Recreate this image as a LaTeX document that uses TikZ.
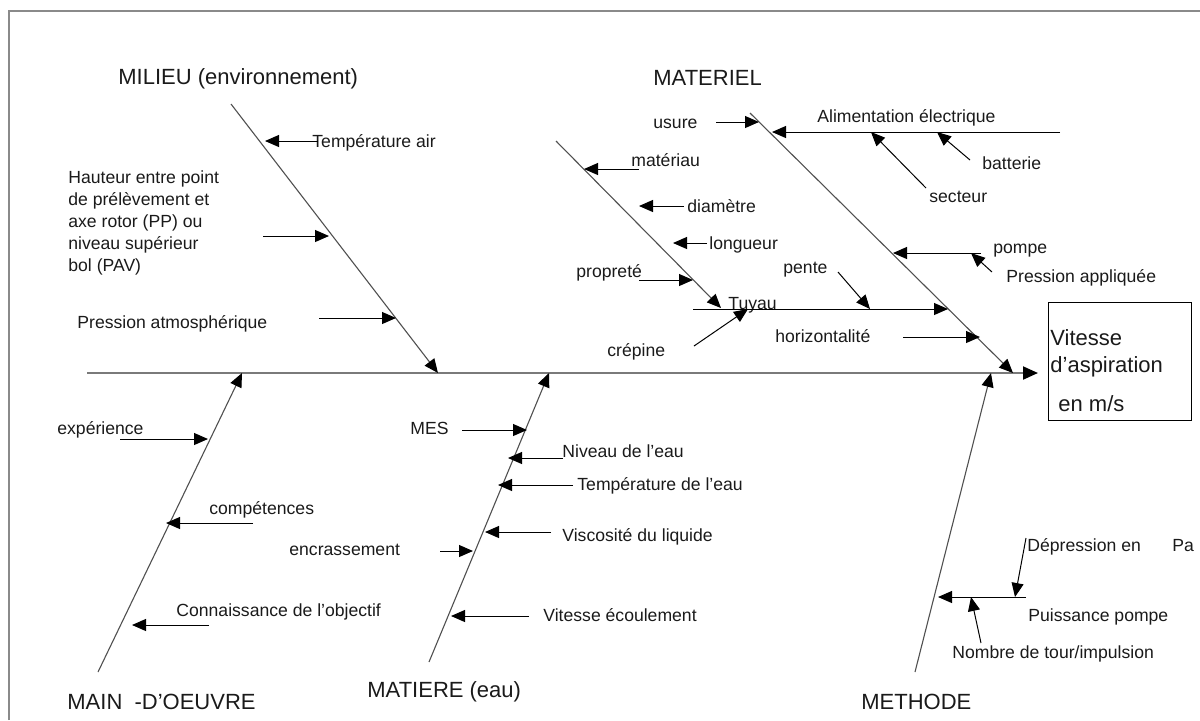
\documentclass[tikz,border=0pt]{standalone}
\usepackage{fontspec}
\setmainfont{Liberation Sans}
\usetikzlibrary{arrows.meta}
\definecolor{txt}{HTML}{1A1A1A}
\definecolor{bonegray}{HTML}{505050}
\definecolor{spinegray}{HTML}{7A7A7A}
\definecolor{framegray}{HTML}{8A8A8A}
\begin{document}
\begin{tikzpicture}[x=0.5pt,y=-0.5pt,
  lbl/.style={anchor=west, inner sep=0pt, font=\fontsize{8.8}{10.5}\selectfont, text height=6.2pt, text depth=0pt, text=txt},
  big/.style={anchor=west, inner sep=0pt, font=\fontsize{11}{13}\selectfont, text height=7.8pt, text depth=0pt, text=txt},
  bone/.style={draw=bonegray, line width=0.55pt, -{Triangle[length=7pt,width=6pt,color=black]}},
  spine/.style={draw=spinegray, line width=1pt, -{Triangle[length=7.5pt,width=6.5pt,color=black]}},
  sub/.style={draw=black, line width=0.5pt, -{Triangle[length=7pt,width=6pt]}},
  plain/.style={draw=black, line width=0.5pt}]
\useasboundingbox (0,0) rectangle (1200,720);
% frame
\draw[framegray, line width=1pt] (9,720) -- (9,11) -- (1200,11);

% ---- coordinates: bones
\coordinate (sp0) at (87,373);   \coordinate (sp1) at (1038,373);
\coordinate (mi0) at (231,104);  \coordinate (mi1) at (438,373);
\coordinate (ma0) at (750,113);  \coordinate (ma1) at (1013,373);
\coordinate (mo0) at (98,672);   \coordinate (mo1) at (242,373);
\coordinate (mt0) at (429,662);  \coordinate (mt1) at (549,373);
\coordinate (me0) at (915,672);  \coordinate (me1) at (991,373);
\coordinate (tu0) at (556,141);  \coordinate (tu1) at (721,308);

\draw[spine] (sp0) -- (sp1);
\draw[bone] (mi0) -- (mi1);
\draw[bone] (ma0) -- (ma1);
\draw[bone] (mo0) -- (mo1);
\draw[bone] (mt0) -- (mt1);
\draw[bone] (me0) -- (me1);
\draw[bone] (tu0) -- (tu1);

% ---- main labels
\node[big] (lmilieu) at (118,77) {MILIEU (environnement)};
\node[big] (lmateriel) at (653,78) {MATERIEL};
\node[big] (lmain) at (67,702) {MAIN\ \ -D’OEUVRE};
\node[big] (lmatiere) at (367,690) {MATIERE (eau)};
\node[big] (lmethode) at (861,702) {METHODE};

% ---- effect box
\node[draw=black, line width=0.6pt, inner sep=0pt, minimum width=71.5pt, minimum height=59pt, anchor=north west] (box) at (1048,302) {};
\node[big] (v1) at (1050,338) {Vitesse};
\node[big] (v2) at (1050,365) {d’aspiration};
\node[big] (v3) at (1058,404) {en m/s};

% ---- MILIEU causes
\node[lbl] (ltair) at (312,141) {Température air};
\node[anchor=north west, inner sep=0pt, align=left, font=\fontsize{8.8}{11}\selectfont, text=txt] (lhaut) at (68,170)
  {Hauteur entre point\\de prélèvement et\\axe rotor (PP) ou\\niveau supérieur\\bol (PAV)};
\node[lbl] (lpatm) at (77,322) {Pression atmosphérique};
\coordinate (a1) at (318,141); \coordinate (b1) at (265,141);
\coordinate (a2) at (263,236); \coordinate (b2) at (329,236);
\coordinate (a3) at (319,318); \coordinate (b3) at (396,318);
\draw[sub] (a1) -- (b1);
\draw[sub] (a2) -- (b2);
\draw[sub] (a3) -- (b3);

% ---- MATERIEL causes
\node[lbl] (lusure) at (653,122) {usure};
\node[lbl] (lalim) at (817,116) {Alimentation électrique};
\node[lbl] (lbatt) at (982,163) {batterie};
\node[lbl] (lsect) at (929,196) {secteur};
\node[lbl] (lpompe) at (993,247) {pompe};
\node[lbl] (lpapp) at (1006,276) {Pression appliquée};
\coordinate (c1) at (716,122);  \coordinate (d1) at (759,122);
\coordinate (c2) at (1060,132); \coordinate (d2) at (772,132);
\coordinate (c3) at (926,188);  \coordinate (d3) at (871,132);
\coordinate (c4) at (970,160);  \coordinate (d4) at (937,132);
\coordinate (c5) at (981,253);  \coordinate (d5) at (893,253);
\coordinate (c6) at (992,272);  \coordinate (d6) at (971,253);
\draw[sub] (c1) -- (d1);
\draw[sub] (c2) -- (d2);
\draw[sub] (c3) -- (d3);
\draw[sub] (c4) -- (d4);
\draw[sub] (c5) -- (d5);
\draw[sub] (c6) -- (d6);

% ---- Tuyau sub-branch
\node[lbl] (lmatx) at (631,160) {matériau};
\node[lbl] (ldiam) at (687,206) {diamètre};
\node[lbl] (llong) at (709,243) {longueur};
\node[lbl] (lprop) at (576,271) {propreté};
\node[lbl] (ltuy) at (728,303) {Tuyau};
\node[lbl] (lcrep) at (607,350) {crépine};
\node[lbl] (lpente) at (783,267) {pente};
\node[lbl] (lhoriz) at (775,336) {horizontalité};
\coordinate (e1) at (639,169); \coordinate (f1) at (584,169);
\coordinate (e2) at (684,206); \coordinate (f2) at (639,206);
\coordinate (e3) at (707,243); \coordinate (f3) at (673,243);
\coordinate (e4) at (639,280); \coordinate (f4) at (693,280);
\coordinate (e5) at (693,309); \coordinate (f5) at (948,309);
\coordinate (e6) at (694,346); \coordinate (f6) at (748,309);
\coordinate (e7) at (838,272); \coordinate (f7) at (870,309);
\coordinate (e8) at (903,337); \coordinate (f8) at (980,337);
\draw[sub] (e1) -- (f1);
\draw[sub] (e2) -- (f2);
\draw[sub] (e3) -- (f3);
\draw[sub] (e4) -- (f4);
\draw[sub] (e5) -- (f5);
\draw[sub] (e6) -- (f6);
\draw[sub] (e7) -- (f7);
\draw[sub] (e8) -- (f8);

% ---- MAIN-D'OEUVRE causes
\node[lbl] (lexp) at (57,428) {expérience};
\node[lbl] (lcomp) at (209,508) {compétences};
\node[lbl] (lconn) at (176,610) {Connaissance de l’objectif};
\coordinate (g1) at (120,439); \coordinate (h1) at (208,439);
\coordinate (g2) at (253,523); \coordinate (h2) at (166,523);
\coordinate (g3) at (209,625); \coordinate (h3) at (132,625);
\draw[sub] (g1) -- (h1);
\draw[sub] (g2) -- (h2);
\draw[sub] (g3) -- (h3);

% ---- MATIERE causes
\node[lbl] (lmes) at (410,428) {MES};
\node[lbl] (lniv) at (562,451) {Niveau de l’eau};
\node[lbl] (lteau) at (577,484) {Température de l’eau};
\node[lbl] (lvisc) at (562,535) {Viscosité du liquide};
\node[lbl] (lencr) at (289,549) {encrassement};
\node[lbl] (lvecl) at (543,615) {Vitesse écoulement};
\coordinate (i1) at (462,430); \coordinate (j1) at (527,430);
\coordinate (i2) at (563,458); \coordinate (j2) at (508,458);
\coordinate (i3) at (573,485); \coordinate (j3) at (498,485);
\coordinate (i4) at (551,532); \coordinate (j4) at (485,532);
\coordinate (i5) at (440,551); \coordinate (j5) at (473,551);
\coordinate (i6) at (529,616); \coordinate (j6) at (451,616);
\draw[sub] (i1) -- (j1);
\draw[sub] (i2) -- (j2);
\draw[sub] (i3) -- (j3);
\draw[sub] (i4) -- (j4);
\draw[sub] (i5) -- (j5);
\draw[sub] (i6) -- (j6);

% ---- METHODE causes
\node[lbl] (ldep) at (1027,545) {Dépression en};
\node[lbl] (lpa) at (1172,545) {Pa};
\node[lbl] (lpuis) at (1028,615) {Puissance pompe};
\node[lbl] (lnomb) at (952,652) {Nombre de tour/impulsion};
\coordinate (k1) at (1026,538); \coordinate (l1) at (1015,597);
\coordinate (k2) at (1026,597); \coordinate (l2) at (938,597);
\coordinate (k3) at (981,643);  \coordinate (l3) at (971,597);
\draw[sub] (k1) -- (l1);
\draw[sub] (k2) -- (l2);
\draw[sub] (k3) -- (l3);
\end{tikzpicture}
\end{document}
